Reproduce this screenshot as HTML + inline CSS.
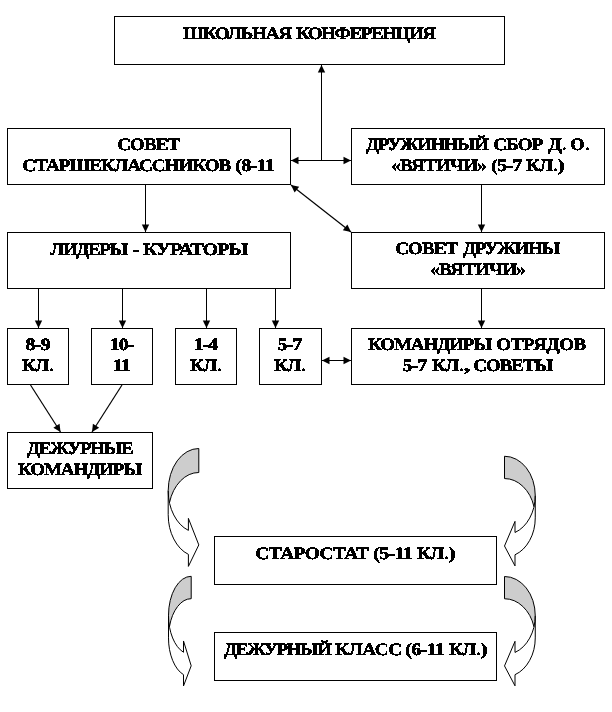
<!DOCTYPE html>
<html lang="ru">
<head>
<meta charset="utf-8">
<title>Схема самоуправления</title>
<style>
html,body{margin:0;padding:0;background:#fff;}
body{width:612px;height:712px;overflow:hidden;}
svg{display:block;will-change:transform;}
text{white-space:pre;text-rendering:geometricPrecision;}
</style>
</head>
<body>
<svg width="612" height="712" viewBox="0 0 612 712">
<rect x="0" y="0" width="612" height="712" fill="#fff"/>
<g fill="#fff" stroke="#000" stroke-width="1"><rect x="114.5" y="16.5" width="390.0" height="48.0"/><rect x="7.5" y="128.5" width="283.0" height="56.0"/><rect x="351.5" y="128.5" width="253.0" height="56.0"/><rect x="7.5" y="232.5" width="283.0" height="56.0"/><rect x="351.5" y="232.5" width="253.0" height="56.0"/><rect x="7.5" y="328.5" width="61.0" height="56.0"/><rect x="91.5" y="328.5" width="61.0" height="56.0"/><rect x="175.5" y="328.5" width="61.0" height="56.0"/><rect x="259.5" y="328.5" width="62.0" height="56.0"/><rect x="351.5" y="328.5" width="253.0" height="56.0"/><rect x="7.5" y="432.5" width="145.0" height="56.0"/><rect x="214.5" y="536.5" width="282.0" height="48.0"/><rect x="214.5" y="632.5" width="282.0" height="48.0"/></g>
<line x1="321.5" y1="160.5" x2="321.5" y2="65" stroke="#000" stroke-width="1"/><polygon points="321.50,65.00 325.20,72.50 317.80,72.50" fill="#000"/><line x1="291" y1="160.5" x2="351" y2="160.5" stroke="#000" stroke-width="1"/><polygon points="351.00,160.50 343.50,164.20 343.50,156.80" fill="#000"/><polygon points="291.00,160.50 298.50,156.80 298.50,164.20" fill="#000"/><line x1="291" y1="185" x2="351" y2="232" stroke="#000" stroke-width="1.2"/><polygon points="351.00,232.00 342.81,230.29 347.38,224.46" fill="#000"/><polygon points="291.00,185.00 299.19,186.71 294.62,192.54" fill="#000"/><line x1="145.5" y1="185" x2="145.5" y2="232" stroke="#000" stroke-width="1"/><polygon points="145.50,232.00 141.80,224.50 149.20,224.50" fill="#000"/><line x1="481.5" y1="185" x2="481.5" y2="232" stroke="#000" stroke-width="1"/><polygon points="481.50,232.00 477.80,224.50 485.20,224.50" fill="#000"/><line x1="481.5" y1="289" x2="481.5" y2="328" stroke="#000" stroke-width="1"/><polygon points="481.50,328.00 477.80,320.50 485.20,320.50" fill="#000"/><line x1="38.5" y1="289" x2="38.5" y2="328" stroke="#000" stroke-width="1"/><polygon points="38.50,328.00 34.80,320.50 42.20,320.50" fill="#000"/><line x1="122.5" y1="289" x2="122.5" y2="328" stroke="#000" stroke-width="1"/><polygon points="122.50,328.00 118.80,320.50 126.20,320.50" fill="#000"/><line x1="206.5" y1="289" x2="206.5" y2="328" stroke="#000" stroke-width="1"/><polygon points="206.50,328.00 202.80,320.50 210.20,320.50" fill="#000"/><line x1="275.5" y1="289" x2="275.5" y2="328" stroke="#000" stroke-width="1"/><polygon points="275.50,328.00 271.80,320.50 279.20,320.50" fill="#000"/><line x1="322" y1="360.5" x2="351" y2="360.5" stroke="#000" stroke-width="1"/><polygon points="351.00,360.50 343.50,364.20 343.50,356.80" fill="#000"/><polygon points="322.00,360.50 329.50,356.80 329.50,364.20" fill="#000"/><line x1="30.5" y1="385" x2="60.5" y2="432" stroke="#000" stroke-width="1.2"/><polygon points="60.50,432.00 53.35,427.67 59.58,423.69" fill="#000"/><line x1="122" y1="385" x2="92" y2="432" stroke="#000" stroke-width="1.2"/><polygon points="92.00,432.00 92.92,423.69 99.15,427.67" fill="#000"/>
<path d="M168.20,490.70 A30.60,42.20 0 0 0 188.40,530.39 L188.40,518.39 L198.80,544.90 L188.40,566.39 L188.40,554.39 A30.60,42.20 0 0 1 168.20,514.70 Z" fill="#fff"/><path d="M198.80,472.50 A30.60,42.20 0 0 0 169.46,502.70 A30.60,42.20 0 0 1 168.20,490.70 A30.60,42.20 0 0 1 198.80,448.50 Z" fill="#cdcdcd"/><path d="M168.20,490.70 A30.60,42.20 0 0 0 188.40,530.39 L188.40,518.39 L198.80,544.90 L188.40,566.39 L188.40,554.39 A30.60,42.20 0 0 1 168.20,514.70 L168.20,490.70 A30.60,42.20 0 0 1 198.80,448.50 L198.80,472.50 A30.60,42.20 0 0 0 169.46,502.70" fill="none" stroke="#000" stroke-width="1.0" stroke-linejoin="miter"/><path d="M168.50,615.45 A22.70,39.15 0 0 0 183.50,652.28 L183.50,640.98 L191.20,665.80 L183.50,685.98 L183.50,674.68 A22.70,39.15 0 0 1 168.50,637.85 Z" fill="#fff"/><path d="M191.20,598.70 A22.70,39.15 0 0 0 169.45,626.65 A22.70,39.15 0 0 1 168.50,615.45 A22.70,39.15 0 0 1 191.20,576.30 Z" fill="#cdcdcd"/><path d="M168.50,615.45 A22.70,39.15 0 0 0 183.50,652.28 L183.50,640.98 L191.20,665.80 L183.50,685.98 L183.50,674.68 A22.70,39.15 0 0 1 168.50,637.85 L168.50,615.45 A22.70,39.15 0 0 1 191.20,576.30 L191.20,598.70 A22.70,39.15 0 0 0 169.45,626.65" fill="none" stroke="#000" stroke-width="1.0" stroke-linejoin="miter"/><path d="M535.25,495.55 A30.75,39.30 0 0 1 515.00,532.49 L515.00,521.39 L504.50,546.00 L515.00,565.89 L515.00,554.79 A30.75,39.30 0 0 0 535.25,517.85 Z" fill="#fff"/><path d="M504.50,478.55 A30.75,39.30 0 0 1 533.99,506.70 A30.75,39.30 0 0 0 535.25,495.55 A30.75,39.30 0 0 0 504.50,456.25 Z" fill="#cdcdcd"/><path d="M535.25,495.55 A30.75,39.30 0 0 1 515.00,532.49 L515.00,521.39 L504.50,546.00 L515.00,565.89 L515.00,554.79 A30.75,39.30 0 0 0 535.25,517.85 L535.25,495.55 A30.75,39.30 0 0 0 504.50,456.25 L504.50,478.55 A30.75,39.30 0 0 1 533.99,506.70" fill="none" stroke="#000" stroke-width="1.0" stroke-linejoin="miter"/><path d="M535.25,615.65 A30.75,39.15 0 0 1 515.00,652.45 L515.00,641.32 L504.50,665.92 L515.00,685.82 L515.00,674.70 A30.75,39.15 0 0 0 535.25,637.90 Z" fill="#fff"/><path d="M504.50,598.75 A30.75,39.15 0 0 1 533.98,626.77 A30.75,39.15 0 0 0 535.25,615.65 A30.75,39.15 0 0 0 504.50,576.50 Z" fill="#cdcdcd"/><path d="M535.25,615.65 A30.75,39.15 0 0 1 515.00,652.45 L515.00,641.32 L504.50,665.92 L515.00,685.82 L515.00,674.70 A30.75,39.15 0 0 0 535.25,637.90 L535.25,615.65 A30.75,39.15 0 0 0 504.50,576.50 L504.50,598.75 A30.75,39.15 0 0 1 533.98,626.77" fill="none" stroke="#000" stroke-width="1.0" stroke-linejoin="miter"/>
<defs><filter id="bw" x="0" y="0" width="100%" height="100%" filterUnits="userSpaceOnUse" primitiveUnits="userSpaceOnUse" color-interpolation-filters="sRGB"><feComponentTransfer><feFuncA type="discrete" tableValues="0 1"/></feComponentTransfer></filter></defs><g filter="url(#bw)" font-family="'Liberation Serif', 'DejaVu Serif', serif" font-weight="bold" font-size="17.5" fill="#000" stroke="#000" stroke-width="0.5" stroke-linejoin="miter"><text y="39"><tspan x="182.93" textLength="107.91" lengthAdjust="spacingAndGlyphs" style="letter-spacing:-1.138px">ШКОЛЬНАЯ</tspan> <tspan x="295.93" textLength="138.77" lengthAdjust="spacingAndGlyphs" style="letter-spacing:-1.270px">КОНФЕРЕНЦИЯ</tspan></text>
<text y="150"><tspan x="117.33" textLength="61.84" lengthAdjust="spacingAndGlyphs" style="letter-spacing:-0.801px">СОВЕТ</tspan></text>
<text y="171"><tspan x="22.33" textLength="207.95" lengthAdjust="spacingAndGlyphs" style="letter-spacing:-0.926px">СТАРШЕКЛАССНИКОВ</tspan> <tspan x="235.39" textLength="38.61" lengthAdjust="spacingAndGlyphs" style="letter-spacing:-0.687px">(8-11</tspan></text>
<text y="150"><tspan x="366.14" textLength="121.48" lengthAdjust="spacingAndGlyphs" style="letter-spacing:-1.336px">ДРУЖИННЫЙ</tspan> <tspan x="493.33" textLength="49.15" lengthAdjust="spacingAndGlyphs" style="letter-spacing:-0.751px">СБОР</tspan> <tspan x="548.13" textLength="13.88" lengthAdjust="spacingAndGlyphs">Д</tspan><tspan x="562.68" textLength="3.24" lengthAdjust="spacingAndGlyphs">.</tspan> <tspan x="570.35" textLength="14.29" lengthAdjust="spacingAndGlyphs">О</tspan><tspan x="586.08" textLength="3.24" lengthAdjust="spacingAndGlyphs">.</tspan></text>
<text y="171"><tspan x="391.27" textLength="94.66" lengthAdjust="spacingAndGlyphs" style="letter-spacing:-0.738px">«ВЯТИЧИ»</tspan> <tspan x="491.39" textLength="30.24" lengthAdjust="spacingAndGlyphs" style="letter-spacing:-0.540px">(5-7</tspan> <tspan x="525.93" textLength="26.49" lengthAdjust="spacingAndGlyphs" style="letter-spacing:-0.602px">КЛ</tspan><tspan x="553.57" textLength="3.86" lengthAdjust="spacingAndGlyphs">.</tspan><tspan x="557.56" textLength="7.13" lengthAdjust="spacingAndGlyphs">)</tspan></text>
<text y="255"><tspan x="50.20" textLength="76.54" lengthAdjust="spacingAndGlyphs" style="letter-spacing:-1.227px">ЛИДЕРЫ</tspan> <tspan x="132.47" textLength="7.05" lengthAdjust="spacingAndGlyphs">-</tspan> <tspan x="142.93" textLength="104.43" lengthAdjust="spacingAndGlyphs" style="letter-spacing:-0.666px">КУРАТОРЫ</tspan></text>
<text y="254"><tspan x="395.33" textLength="61.84" lengthAdjust="spacingAndGlyphs" style="letter-spacing:-0.801px">СОВЕТ</tspan> <tspan x="463.14" textLength="95.58" lengthAdjust="spacingAndGlyphs" style="letter-spacing:-1.255px">ДРУЖИНЫ</tspan></text>
<text y="275"><tspan x="430.27" textLength="94.66" lengthAdjust="spacingAndGlyphs" style="letter-spacing:-0.738px">«ВЯТИЧИ»</tspan></text>
<text y="350"><tspan x="25.60" textLength="24.22" lengthAdjust="spacingAndGlyphs" style="letter-spacing:-0.566px">8-9</tspan></text>
<text y="371"><tspan x="21.93" textLength="26.49" lengthAdjust="spacingAndGlyphs" style="letter-spacing:-0.602px">КЛ</tspan><tspan x="49.57" textLength="3.86" lengthAdjust="spacingAndGlyphs">.</tspan></text>
<text y="350"><tspan x="109.68" textLength="24.12" lengthAdjust="spacingAndGlyphs" style="letter-spacing:-0.598px">10-</tspan></text>
<text y="371"><tspan x="112.68" textLength="16.57" lengthAdjust="spacingAndGlyphs" style="letter-spacing:-1.354px">11</tspan></text>
<text y="350"><tspan x="193.68" textLength="23.59" lengthAdjust="spacingAndGlyphs" style="letter-spacing:-0.756px">1-4</tspan></text>
<text y="371"><tspan x="189.93" textLength="26.49" lengthAdjust="spacingAndGlyphs" style="letter-spacing:-0.602px">КЛ</tspan><tspan x="217.57" textLength="3.86" lengthAdjust="spacingAndGlyphs">.</tspan></text>
<text y="350"><tspan x="277.47" textLength="24.08" lengthAdjust="spacingAndGlyphs" style="letter-spacing:-0.609px">5-7</tspan></text>
<text y="371"><tspan x="273.93" textLength="26.49" lengthAdjust="spacingAndGlyphs" style="letter-spacing:-0.602px">КЛ</tspan><tspan x="301.57" textLength="3.86" lengthAdjust="spacingAndGlyphs">.</tspan></text>
<text y="350"><tspan x="367.93" textLength="123.11" lengthAdjust="spacingAndGlyphs" style="letter-spacing:-0.955px">КОМАНДИРЫ</tspan> <tspan x="496.33" textLength="89.47" lengthAdjust="spacingAndGlyphs" style="letter-spacing:-0.442px">ОТРЯДОВ</tspan></text>
<text y="371"><tspan x="402.47" textLength="24.08" lengthAdjust="spacingAndGlyphs" style="letter-spacing:-0.609px">5-7</tspan> <tspan x="431.93" textLength="26.49" lengthAdjust="spacingAndGlyphs" style="letter-spacing:-0.602px">КЛ</tspan><tspan x="459.57" textLength="3.86" lengthAdjust="spacingAndGlyphs">.</tspan><tspan x="463.89" textLength="6.92" lengthAdjust="spacingAndGlyphs">,</tspan> <tspan x="473.33" textLength="78.75" lengthAdjust="spacingAndGlyphs" style="letter-spacing:-0.922px">СОВЕТЫ</tspan></text>
<text y="454"><tspan x="27.14" textLength="105.29" lengthAdjust="spacingAndGlyphs" style="letter-spacing:-1.190px">ДЕЖУРНЫЕ</tspan></text>
<text y="475"><tspan x="17.93" textLength="123.11" lengthAdjust="spacingAndGlyphs" style="letter-spacing:-0.955px">КОМАНДИРЫ</tspan></text>
<text y="559"><tspan x="255.33" textLength="113.09" lengthAdjust="spacingAndGlyphs" style="letter-spacing:-0.573px">СТАРОСТАТ</tspan> <tspan x="373.39" textLength="38.61" lengthAdjust="spacingAndGlyphs" style="letter-spacing:-0.687px">(5-11</tspan> <tspan x="416.93" textLength="26.49" lengthAdjust="spacingAndGlyphs" style="letter-spacing:-0.602px">КЛ</tspan><tspan x="444.57" textLength="3.86" lengthAdjust="spacingAndGlyphs">.</tspan><tspan x="448.56" textLength="7.13" lengthAdjust="spacingAndGlyphs">)</tspan></text>
<text y="655"><tspan x="224.14" textLength="106.53" lengthAdjust="spacingAndGlyphs" style="letter-spacing:-1.289px">ДЕЖУРНЫЙ</tspan> <tspan x="334.93" textLength="66.89" lengthAdjust="spacingAndGlyphs" style="letter-spacing:-0.341px">КЛАСС</tspan> <tspan x="405.39" textLength="38.61" lengthAdjust="spacingAndGlyphs" style="letter-spacing:-0.687px">(6-11</tspan> <tspan x="448.93" textLength="26.49" lengthAdjust="spacingAndGlyphs" style="letter-spacing:-0.602px">КЛ</tspan><tspan x="476.57" textLength="3.86" lengthAdjust="spacingAndGlyphs">.</tspan><tspan x="480.56" textLength="7.13" lengthAdjust="spacingAndGlyphs">)</tspan></text></g>
</svg>
</body>
</html>
